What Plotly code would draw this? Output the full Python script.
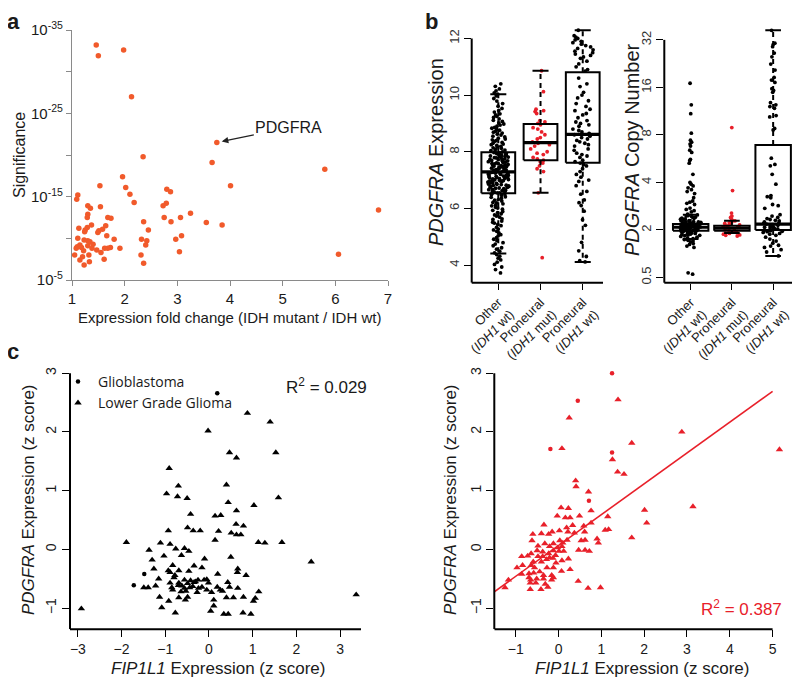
import numpy as np
import plotly.graph_objects as go

# The page body keeps its default 8px margin, so the figure is offset by 8px;
# pixel positions below are in page pixels and converted accordingly.
OFF = 8
W, H = 800 - OFF, 682 - OFF
def PX(px): return (px - OFF) / W
def PY(py): return 1 - (py - OFF) / H

# ================= DATA =================
# ---- panel a : fold change vs significance (-log10 p) ----
a_fold_change = [1.46, 1.50, 1.98, 2.13, 3.75, 2.35, 3.66, 5.80, 1.96, 1.53,
                 4.01, 2.02, 2.80, 2.87, 2.10, 1.11, 1.09, 2.18, 2.79, 1.54,
                 2.73, 1.30, 1.35, 6.82, 3.25, 1.30, 1.29, 1.68, 1.74, 2.75,
                 3.06, 2.36, 2.88, 3.55, 3.85, 1.37, 1.64, 1.13, 1.29, 1.25,
                 1.58, 1.51, 2.45, 1.24, 1.49, 1.66, 3.08, 1.11, 1.23, 1.30,
                 1.34, 1.80, 2.32, 2.42, 2.97, 1.40, 1.15, 1.30, 2.40, 1.10,
                 1.18, 1.38, 1.08, 1.62, 1.68, 1.73, 1.91, 1.47, 1.22, 1.55,
                 3.04, 6.06, 1.05, 1.32, 2.31, 1.20, 1.15, 1.61, 1.33, 1.23,
                 2.36]
a_neglog10_p = [33.2, 31.9, 32.6, 27.0, 21.5, 19.8, 19.1, 18.3, 17.4, 16.3,
                16.3, 16.1, 15.9, 15.6, 15.3, 15.2, 14.7, 14.3, 14.2, 13.8,
                13.9, 13.9, 13.6, 13.4, 13.0, 12.9, 12.5, 12.5, 12.4, 12.5,
                12.5, 12.0, 12.0, 11.9, 11.6, 11.6, 11.5, 11.2, 11.3, 11.0,
                11.1, 10.9, 11.0, 10.8, 10.7, 10.3, 10.3, 10.0, 9.8, 9.7,
                9.6, 9.9, 9.9, 9.7, 9.9, 9.3, 9.2, 9.1, 9.2, 9.0,
                8.9, 8.8, 8.8, 8.8, 8.8, 8.9, 8.8, 8.6, 8.5, 8.3,
                8.4, 8.1, 8.0, 8.0, 8.0, 7.8, 7.4, 7.5, 7.2, 6.8,
                7.0]
a_label_gene = "PDGFRA"
a_label_fold = 3.75
a_label_neglog10_p = 21.5
a_x_ticks = [1, 2, 3, 4, 5, 6, 7]
a_y_tick_exps = [5, 10, 15, 20, 25, 30, 35]
a_y_labelled_exps = [5, 15, 25, 35]

# ---- panel b ----
b_groups = ["Other<br>(<i>IDH1</i> wt)", "Proneural<br>(<i>IDH1</i> mut)",
            "Proneural<br>(<i>IDH1</i> wt)"]
b_expr_other = [3.72, 3.84, 3.93, 4.02, 4.10, 4.18, 4.24, 4.31, 4.37,
                4.43, 4.49, 4.56, 4.61, 4.68, 4.74, 4.79, 4.86, 4.91, 4.97,
                5.03, 5.07, 5.13, 5.19, 5.24, 5.27, 5.33, 5.39, 5.43, 5.48,
                5.51, 5.55, 5.61, 5.63, 5.69, 5.73, 5.77, 5.81, 5.85, 5.89, 5.93, 5.97,
                6.01, 6.04, 6.09, 6.11, 6.16, 6.19, 6.21, 6.26, 6.29, 6.31, 6.36, 6.39, 6.41, 6.46, 6.49,
                6.51, 6.52, 6.55, 6.55, 6.58, 6.60, 6.61, 6.63, 6.64, 6.66, 6.67, 6.70, 6.71, 6.72,
                6.74, 6.75, 6.77, 6.78, 6.79, 6.81, 6.82, 6.84, 6.85, 6.86, 6.88, 6.89, 6.90, 6.92,
                6.93, 6.94, 6.95, 6.96, 6.97, 6.98, 6.99,
                7.00, 7.01, 7.02, 7.04, 7.05, 7.06, 7.08, 7.09, 7.10, 7.12, 7.13, 7.14, 7.16, 7.17,
                7.18, 7.20, 7.21, 7.22, 7.23, 7.25, 7.26, 7.27, 7.28, 7.30, 7.31, 7.32, 7.33, 7.35,
                7.36, 7.37, 7.38, 7.40, 7.41, 7.42, 7.43, 7.44, 7.46, 7.47, 7.48, 7.49,
                7.50, 7.51, 7.53, 7.54, 7.55, 7.57, 7.58, 7.59, 7.61, 7.62, 7.63, 7.65, 7.66, 7.68,
                7.69, 7.70, 7.72, 7.73, 7.75, 7.76, 7.78, 7.79, 7.81, 7.82, 7.84, 7.85, 7.87, 7.88,
                7.90, 7.91, 7.93, 7.94, 7.96, 7.97, 7.99,
                8.01, 8.04, 8.06, 8.09, 8.12, 8.14, 8.17, 8.19, 8.22, 8.25, 8.27, 8.30, 8.33, 8.36,
                8.39, 8.42, 8.45, 8.48,
                8.52, 8.55, 8.59, 8.62, 8.66, 8.69, 8.72, 8.76, 8.79, 8.83, 8.86, 8.90, 8.94, 8.98,
                9.02, 9.07, 9.11, 9.16, 9.21, 9.25, 9.30, 9.34, 9.40, 9.46,
                9.53, 9.61, 9.70, 9.79, 9.88, 9.97,
                10.03, 10.08, 10.15, 10.22, 10.31, 10.40]
b_expr_mut = [10.86, 10.12, 9.50, 9.45, 9.42, 9.35, 9.10, 9.05, 9.00, 8.95,
              8.85, 8.80, 8.70, 8.60, 8.50, 8.45, 8.35, 8.30, 8.25, 8.20,
              8.10, 8.00, 7.95, 7.90, 7.80, 7.75, 7.70, 7.65, 7.60, 7.50,
              7.40, 7.30, 6.55, 4.26]
b_expr_wt = [12.29, 12.10, 12.05, 12.00, 11.95, 11.90, 11.85, 11.80, 11.75, 11.70,
             11.65, 11.60, 11.55, 11.50, 11.45, 11.40, 11.35, 11.30, 11.20, 11.10,
             11.00, 10.90, 10.85, 10.60, 10.40, 10.30, 10.10, 10.00, 9.90, 9.80,
             9.70, 9.60, 9.50, 9.45, 9.35, 9.30, 9.20, 9.10, 9.05, 9.00,
             8.95, 8.90, 8.80, 8.75, 8.70, 8.65, 8.60, 8.55, 8.50, 8.45,
             8.40, 8.35, 8.30, 8.25, 8.20, 8.10, 8.05, 7.95, 7.90, 7.85,
             7.80, 7.70, 7.65, 7.60, 7.55, 7.50, 7.40, 7.30, 7.20, 7.10,
             7.00, 6.95, 6.80, 6.60, 6.50, 6.30, 6.20, 6.10, 5.90, 5.60,
             5.40, 4.80, 4.50, 4.30, 4.15, 4.11]
b_expr_lo = [4.41, 6.55, 4.11]
b_expr_q1 = [6.53, 7.70, 7.61]
b_expr_med = [7.29, 8.32, 8.61]
b_expr_q3 = [7.98, 8.98, 10.81]
b_expr_hi = [10.03, 10.86, 12.29]
b_expr_ticks = [4, 6, 8, 10, 12]

b_cn_other = [17.0, 12.4, 10.9, 8.2, 7.4, 7.2, 7.0, 6.8, 6.4, 6.2,
              5.6, 5.5, 5.3, 4.5, 4.0, 3.9, 3.8, 3.7, 3.6, 3.5,
              3.4, 3.2, 3.05, 3.0, 2.95, 2.9, 2.75, 2.7, 2.65, 2.6,
              2.52, 2.49, 2.47, 2.45, 2.43, 2.41, 2.40, 2.38, 2.37, 2.35,
              2.34, 2.33, 2.31, 2.30, 2.29, 2.28, 2.27, 2.26, 2.25, 2.24,
              2.23, 2.22, 2.21, 2.21, 2.20, 2.19, 2.18, 2.18, 2.17, 2.16,
              2.16, 2.15, 2.14, 2.14, 2.13, 2.12, 2.12, 2.11, 2.10, 2.10,
              2.09, 2.09, 2.08, 2.08, 2.07, 2.07, 2.06, 2.06, 2.05, 2.05,
              2.04, 2.04, 2.03, 2.03, 2.02, 2.02, 2.01, 2.01, 2.00, 2.00,
              2.00, 1.99, 1.99, 1.98, 1.98, 1.97, 1.97, 1.96, 1.95, 1.95,
              1.94, 1.93, 1.92, 1.91, 1.90, 1.89, 1.88, 1.87, 1.86, 1.85,
              1.84, 1.82, 1.80, 1.78, 1.76, 1.74, 1.72, 1.70, 1.68, 1.64,
              1.62, 1.58, 1.55, 1.07, 1.05]
b_cn_mut = [8.9, 3.55, 2.56, 2.45, 2.40, 2.35, 2.30, 2.28, 2.25, 2.22,
            2.20, 2.18, 2.15, 2.12, 2.10, 2.08, 2.05, 2.03, 2.00, 1.98,
            1.96, 1.95, 1.92, 1.90, 1.88, 1.86, 1.85, 1.83]
b_cn_wt = [36.8, 30.5, 30.0, 29.0, 26.4, 25.0, 22.5, 20.6, 18.5, 17.8,
           17.2, 15.7, 15.3, 14.9, 12.8, 12.4, 12.1, 11.8, 10.6, 10.4,
           8.8, 8.6, 5.7, 5.2, 5.1, 4.5, 3.9, 3.3, 3.25, 3.2,
           2.9, 2.85, 2.74, 2.5, 2.45, 2.4, 2.36, 2.33, 2.3, 2.28,
           2.25, 2.22, 2.2, 2.18, 2.16, 2.14, 2.12, 2.1, 2.08, 2.07,
           2.05, 2.03, 2.02, 2.0, 1.99, 1.98, 1.96, 1.95, 1.93, 1.9,
           1.88, 1.85, 1.8, 1.75, 1.7, 1.65, 1.6, 1.58, 1.55, 1.5,
           1.45, 1.37]
b_cn_lo = [1.75, 1.91, 1.37]
b_cn_q1 = [1.98, 1.98, 2.00]
b_cn_med = [2.08, 2.05, 2.18]
b_cn_q3 = [2.18, 2.13, 6.90]
b_cn_hi = [2.50, 2.29, 36.8]
b_cn_tickvals = [1, 2, 4, 8, 16, 32]
b_cn_ticktext = ["0.5", "2", "4", "8", "16", "32"]

# ---- panel c : FIP1L1 vs PDGFRA z scores ----
c_left_gbm = [(0.19, 2.66), (-1.48, -0.42), (-1.72, -0.61)]
c_left_lgg = [(0.88, 2.32), (1.40, 2.17), (-0.02, 2.02), (0.47, 1.65), (1.53, 1.65),
              (0.63, 1.56), (-0.91, 1.38), (-0.70, 1.08), (0.40, 1.10), (-0.97, 0.95),
              (-0.72, 0.90), (-0.50, 0.87), (1.59, 0.88), (0.44, 0.80), (1.03, 0.75),
              (-0.42, 0.60), (0.14, 0.57), (0.27, 0.58), (0.63, 0.66), (0.62, 0.43),
              (0.79, 0.40), (-0.49, 0.37), (-0.93, 0.32), (-0.36, 0.32), (-0.20, 0.32),
              (0.22, 0.31), (0.51, 0.28), (0.63, 0.25), (0.73, 0.25), (0.14, 0.16),
              (-1.89, 0.12), (-1.11, 0.11), (-0.89, 0.09), (1.13, 0.12), (1.28, 0.11),
              (1.67, 0.12), (-1.37, -0.01), (-0.76, 0.01), (-0.56, 0.02), (-0.46, -0.03),
              (-1.03, -0.11), (-0.63, -0.10), (0.50, -0.13), (-1.30, -0.18), (-0.10, -0.16),
              (2.34, -0.21), (-0.83, -0.27), (-0.34, -0.28), (-0.16, -0.31), (-1.26, -0.33),
              (0.66, -0.33), (-0.93, -0.36), (-0.69, -0.36), (-0.46, -0.37), (0.65, -0.39),
              (-0.89, -0.39), (0.20, -0.42), (0.85, -0.44), (-0.78, -0.44), (-0.80, -0.48),
              (-1.15, -0.50), (-0.11, -0.52), (-0.05, -0.51), (-0.25, -0.52), (-0.56, -0.52),
              (-0.42, -0.53), (-0.34, -0.56), (0.43, -0.56), (-0.89, -0.57), (-0.69, -0.57),
              (-0.49, -0.58), (-0.31, -0.55), (-0.01, -0.57), (-1.22, -0.62), (-0.70, -0.61),
              (-0.62, -0.62), (-0.37, -0.63), (-0.16, -0.64), (0.19, -0.64), (0.47, -0.64),
              (-1.49, -0.65), (-1.39, -0.65), (-0.85, -0.65), (-0.56, -0.66), (-0.44, -0.65),
              (-0.24, -0.66), (0.66, -0.66), (0.26, -0.69), (-0.83, -0.69), (-0.53, -0.71),
              (-0.05, -0.69), (0.06, -0.73), (-0.27, -0.73), (0.31, -0.71), (-0.64, -0.72),
              (1.14, -0.72), (3.37, -0.77), (-1.13, -0.81), (-0.49, -0.81), (-0.69, -0.82),
              (0.56, -0.82), (0.40, -0.82), (0.79, -0.81), (1.06, -0.83), (0.11, -0.86),
              (-0.92, -0.88), (1.02, -0.88), (-0.54, -0.86), (0.11, -0.96), (-1.08, -0.99),
              (-2.92, -1.01), (0.04, -1.05), (-0.77, -1.08), (0.34, -1.10), (0.44, -1.10),
              (0.78, -1.08), (0.96, -1.10)]
c_right_gbm = [(1.25, 3.00), (0.45, 2.53), (-0.19, 1.71), (1.25, 1.65), (0.71, 0.83)]
c_right_lgg = [(1.39, 2.55), (0.25, 2.24), (2.88, 2.00), (0.08, 1.72), (1.71, 1.81),
               (5.16, 1.70), (1.26, 1.53), (1.38, 1.32), (1.53, 1.28), (0.40, 1.17),
               (0.41, 1.07), (0.70, 0.98), (3.14, 0.73), (0.06, 0.71), (0.23, 0.70),
               (2.01, 0.67), (0.76, 0.66), (-0.03, 0.57), (0.49, 0.57), (1.15, 0.56),
               (0.16, 0.54), (0.27, 0.54), (2.06, 0.45), (0.76, 0.45), (-0.34, 0.42),
               (0.33, 0.41), (0.59, 0.40), (0.19, 0.37), (1.09, 0.33), (1.17, 0.34),
               (0.02, 0.32), (0.61, 0.30), (0.22, 0.30), (-0.40, 0.27), (-0.23, 0.26),
               (0.37, 0.28), (-0.15, 0.30), (-0.60, 0.26), (1.71, 0.20), (0.90, 0.18),
               (0.62, 0.16), (-0.62, 0.15), (0.03, 0.15), (0.20, 0.16), (0.53, 0.15),
               (0.93, 0.11), (-0.32, 0.10), (-0.12, 0.10), (0.10, 0.11), (-0.48, 0.06),
               (-0.21, 0.05), (-0.02, 0.03), (0.08, 0.05), (0.47, -0.01), (0.62, -0.01),
               (0.72, -0.03), (-0.50, -0.02), (-0.37, -0.04), (-0.12, -0.02), (0.01, -0.03),
               (0.12, -0.03), (-0.64, -0.07), (-0.23, -0.07), (-0.07, -0.10), (-0.72, -0.11),
               (-0.86, -0.12), (-0.48, -0.12), (-0.37, -0.12), (-0.21, -0.14), (-0.13, -0.15),
               (-0.28, -0.17), (0.23, -0.16), (0.08, -0.19), (-0.59, -0.21), (-0.40, -0.21),
               (-0.06, -0.23), (-0.64, -0.27), (-0.84, -0.27), (-0.97, -0.31), (-0.56, -0.31),
               (-0.27, -0.31), (-0.12, -0.31), (0.27, -0.34), (0.07, -0.37), (-0.44, -0.38),
               (-0.58, -0.40), (-0.69, -0.41), (-0.86, -0.42), (-0.35, -0.44), (-0.16, -0.44),
               (-0.12, -0.48), (-0.69, -0.48), (-0.51, -0.50), (-0.35, -0.50), (-0.65, -0.52),
               (-0.16, -0.52), (0.46, -0.54), (-1.17, -0.52), (-0.53, -0.57), (-0.66, -0.57),
               (-0.31, -0.59), (-0.25, -0.64), (-1.25, -0.65), (-0.66, -0.68), (-0.41, -0.68),
               (0.69, -0.66), (0.98, -0.65)]
c_r2_left = 0.029
c_r2_right = 0.387
c_fit_intercept = 0.067
c_fit_slope = 0.525
c_left_xticks = [-3, -2, -1, 0, 1, 2, 3]
c_right_xticks = [-1, 0, 1, 2, 3, 4, 5]
c_yticks = [-1, 0, 1, 2, 3]

# ================= STYLE =================
FONT = "Liberation Sans, Arial, sans-serif"
ORANGE = "#f15a2b"
RED = "#e8202a"
GRAY = "#8a8a8a"
TXT = "#1a1a1a"

fig = go.Figure()

# ---- panel a ----
fig.add_trace(go.Scatter(
    x=a_fold_change, y=[10.0 ** (-v) for v in a_neglog10_p],
    mode="markers", marker=dict(color=ORANGE, size=5.5),
    xaxis="x", yaxis="y", showlegend=False, hoverinfo="skip"))

# ---- panel b helpers ----
def add_b_points(vals, pos, color, xa, ya):
    fig.add_trace(go.Box(
        x=[pos] * len(vals), y=vals, xaxis=xa, yaxis=ya,
        boxpoints="all", jitter=0.62, pointpos=0, width=0.8,
        line=dict(width=0, color="rgba(0,0,0,0)"), fillcolor="rgba(0,0,0,0)",
        whiskerwidth=0,
        marker=dict(color=color, size=3.8, line=dict(width=0)),
        showlegend=False, hoverinfo="skip"))

def add_b_boxes(lo, q1, med, q3, hi, hw, cap, xa, ya):
    rx, ry, mx, my, wx, wy, sx, sy = [], [], [], [], [], [], [], []
    for i in range(len(q1)):
        c = i + 1
        rx += [c - hw, c + hw, c + hw, c - hw, c - hw, None]
        ry += [q1[i], q1[i], q3[i], q3[i], q1[i], None]
        mx += [c - hw, c + hw, None]
        my += [med[i], med[i], None]
        wx += [c, c, None, c, c, None]
        wy += [q3[i], hi[i], None, q1[i], lo[i], None]
        sx += [c - cap, c + cap, None, c - cap, c + cap, None]
        sy += [hi[i], hi[i], None, lo[i], lo[i], None]
    common = dict(xaxis=xa, yaxis=ya, mode="lines", showlegend=False, hoverinfo="skip")
    fig.add_trace(go.Scatter(x=wx, y=wy, line=dict(color="black", width=2, dash="5px,4px"), **common))
    fig.add_trace(go.Scatter(x=sx, y=sy, line=dict(color="black", width=2), **common))
    fig.add_trace(go.Scatter(x=rx, y=ry, line=dict(color="black", width=2), **common))
    fig.add_trace(go.Scatter(x=mx, y=my, line=dict(color="black", width=3.2), **common))

for vals, pos, col in [(b_expr_other, 1, "black"), (b_expr_mut, 2, RED), (b_expr_wt, 3, "black")]:
    add_b_points(vals, pos, col, "x2", "y2")
add_b_boxes(b_expr_lo, b_expr_q1, b_expr_med, b_expr_q3, b_expr_hi, 0.40, 0.19, "x2", "y2")

for vals, pos, col in [(b_cn_other, 1, "black"), (b_cn_mut, 2, RED), (b_cn_wt, 3, "black")]:
    add_b_points(vals, pos, col, "x3", "y3")
add_b_boxes(b_cn_lo, b_cn_q1, b_cn_med, b_cn_q3, b_cn_hi, 0.43, 0.19, "x3", "y3")

# ---- panel c ----
def xy(pts):
    return [p[0] for p in pts], [p[1] for p in pts]

gx, gy = xy(c_left_gbm)
lx, ly = xy(c_left_lgg)
fig.add_trace(go.Scatter(x=gx, y=gy, mode="markers", xaxis="x4", yaxis="y4",
                         marker=dict(symbol="circle", size=4.5, color="black"),
                         name="Glioblastoma", legendgroup="g", hoverinfo="skip"))
fig.add_trace(go.Scatter(x=lx, y=ly, mode="markers", xaxis="x4", yaxis="y4",
                         marker=dict(symbol="triangle-up", size=6.5, color="black"),
                         name="Lower Grade Glioma", legendgroup="l", hoverinfo="skip"))

rgx, rgy = xy(c_right_gbm)
rlx, rly = xy(c_right_lgg)
fig.add_trace(go.Scatter(x=rgx, y=rgy, mode="markers", xaxis="x5", yaxis="y5",
                         marker=dict(symbol="circle", size=4.5, color=RED),
                         showlegend=False, hoverinfo="skip"))
fig.add_trace(go.Scatter(x=rlx, y=rly, mode="markers", xaxis="x5", yaxis="y5",
                         marker=dict(symbol="triangle-up", size=6.5, color=RED),
                         showlegend=False, hoverinfo="skip"))
c_right_xrange = [-1.5, 5.29]
fit_x = [c_right_xrange[0], c_right_xticks[-1]]
fig.add_trace(go.Scatter(x=fit_x, y=[c_fit_intercept + c_fit_slope * v for v in fit_x],
                         mode="lines", line=dict(color=RED, width=1.6),
                         xaxis="x5", yaxis="y5", showlegend=False, hoverinfo="skip"))

# ================= LAYOUT =================
def base_axis(**kw):
    d = dict(showgrid=False, zeroline=False, ticks="outside", tickcolor="black",
             tickwidth=1.2, ticklen=7, showline=False,
             tickfont=dict(family=FONT, size=14, color=TXT))
    d.update(kw)
    return d

a_axis_common = dict(showline=True, linecolor=GRAY, linewidth=1.3, tickcolor=GRAY,
                     ticklen=5, tickwidth=1.2, tickfont=dict(family=FONT, size=15, color=TXT))

b_expr_range = [3.375, 12.37]
b_cn_range = [np.log10(2 ** -0.11), np.log10(2 ** 5.25)]
c_yrange = [-1.36, 3.14]
c_left_xrange = [-3.18, 3.48]

layout = dict(
    width=W, height=H, margin=dict(l=0, r=0, t=0, b=0, autoexpand=False),
    paper_bgcolor="white", plot_bgcolor="rgba(0,0,0,0)",
    boxmode="overlay", hovermode=False,
    font=dict(family=FONT, color=TXT),
    xaxis=base_axis(domain=[PX(72), PX(388)], range=[1, 7], anchor="y",
                    tickvals=a_x_ticks, **a_axis_common),
    yaxis=base_axis(domain=[PY(280), PY(30)], type="log", range=[-5, -35], anchor="x",
                    tickvals=[10.0 ** (-e) for e in a_y_tick_exps],
                    ticktext=[("10<sup>-%d</sup>" % e) if e in a_y_labelled_exps else ""
                              for e in a_y_tick_exps],
                    **a_axis_common),
    xaxis2=base_axis(domain=[PX(471.7), PX(603)], range=[0.37, 3.48], anchor="y2",
                     tickvals=[1, 2, 3], ticktext=b_groups, tickangle=-45, ticklen=6,
                     tickfont=dict(family=FONT, size=13, color=TXT)),
    yaxis2=base_axis(domain=[PY(282.7), PY(28)], range=b_expr_range, anchor="x2",
                     tickvals=b_expr_ticks, tickangle=-90,
                     tickfont=dict(family=FONT, size=13, color="#333")),
    xaxis3=base_axis(domain=[PX(664.3), PX(795)], range=[0.36, 3.53], anchor="y3",
                     tickvals=[1, 2, 3], ticktext=b_groups, tickangle=-45, ticklen=6,
                     tickfont=dict(family=FONT, size=13, color=TXT)),
    yaxis3=base_axis(domain=[PY(282.7), PY(28)], type="log", range=b_cn_range, anchor="x3",
                     tickvals=b_cn_tickvals, ticktext=b_cn_ticktext, tickangle=-90,
                     tickfont=dict(family=FONT, size=13, color="#333")),
    xaxis4=base_axis(domain=[PX(70), PX(361)], range=c_left_xrange, anchor="y4",
                     tickvals=c_left_xticks),
    yaxis4=base_axis(domain=[PY(629.3), PY(365)], range=c_yrange, anchor="x4",
                     tickvals=c_yticks, tickangle=-90),
    xaxis5=base_axis(domain=[PX(494.3), PX(785)], range=c_right_xrange, anchor="y5",
                     tickvals=c_right_xticks),
    yaxis5=base_axis(domain=[PY(629.3), PY(365)], range=c_yrange, anchor="x5",
                     tickvals=c_yticks, tickangle=-90),
    legend=dict(x=PX(58), y=PY(366), xanchor="left", yanchor="top",
                bgcolor="rgba(0,0,0,0)", font=dict(family="Open Sans, sans-serif", size=14, color=TXT),
                itemwidth=30, tracegroupgap=0),
)
fig.update_layout(**layout)

# axis lines (L-shaped, drawn as in the original)
def frac_log(v, rng):
    return (np.log10(v) - rng[0]) / (rng[1] - rng[0])

ln = dict(color="black", width=2)
shapes = [
    # b left
    dict(type="line", xref="x2 domain", yref="y2", x0=0, x1=0, y0=b_expr_range[0], y1=b_expr_ticks[-1], line=ln),
    dict(type="line", xref="x2 domain", yref="y2 domain", x0=0, x1=1, y0=0, y1=0, line=ln),
    # b right
    dict(type="line", xref="x3 domain", yref="y3 domain", x0=0, x1=0, y0=0,
         y1=frac_log(b_cn_tickvals[-1], b_cn_range), line=ln),
    dict(type="line", xref="x3 domain", yref="y3 domain", x0=0, x1=1, y0=0, y1=0, line=ln),
    # c left
    dict(type="line", xref="x4 domain", yref="y4", x0=0, x1=0, y0=c_yrange[0], y1=c_yticks[-1], line=ln),
    dict(type="line", xref="x4 domain", yref="y4 domain", x0=0, x1=1, y0=0, y1=0, line=ln),
    # c right
    dict(type="line", xref="x5 domain", yref="y5", x0=0, x1=0, y0=c_yrange[0], y1=c_yticks[-1], line=ln),
    dict(type="line", xref="x5", yref="y5 domain", x0=c_right_xrange[0], x1=c_right_xticks[-1],
         y0=0, y1=0, line=ln),
]
fig.update_layout(shapes=shapes)

def ann(text, px, py, size, rot=0, color=TXT, bold=False, xanchor="center"):
    return dict(text=("<b>%s</b>" % text) if bold else text, x=PX(px), y=PY(py),
                xref="paper", yref="paper", showarrow=False, textangle=rot,
                xanchor=xanchor, yanchor="middle",
                font=dict(family=FONT, size=size, color=color))

annotations = [
    ann("a", 13, 21, 22, bold=True),
    ann("b", 431, 21, 22, bold=True),
    ann("c", 13, 351, 22, bold=True),
    ann("Significance", 19, 155, 16, rot=-90),
    ann("Expression fold change (IDH mutant / IDH wt)", 230, 317, 15),
    ann("<i>PDGFRA</i> Expression", 436, 152, 20, rot=-90),
    ann("<i>PDGFRA</i> Copy Number", 632, 150, 20, rot=-90),
    ann("<i>PDGFRA</i> Expression (z score)", 28, 500, 17, rot=-90),
    ann("<i>PDGFRA</i> Expression (z score)", 450, 500, 17, rot=-90),
    ann("<i>FIP1L1</i> Expression (z score)", 218, 668, 17),
    ann("<i>FIP1L1</i> Expression (z score)", 642, 668, 17),
    ann("R<sup>2</sup> = %.3f" % c_r2_left, 326, 386, 17),
    ann("R<sup>2</sup> = %.3f" % c_r2_right, 741, 608, 17, color=RED),
    dict(text=a_label_gene, x=a_label_fold, y=-a_label_neglog10_p, xref="x", yref="y",
         showarrow=True, ax=72, ay=-15, standoff=5, arrowhead=2, arrowsize=1.1,
         arrowwidth=1.2, arrowcolor="#222", font=dict(family=FONT, size=16, color=TXT)),
]
fig.update_layout(annotations=annotations)

fig.write_html("out.html", config={"displayModeBar": False})
